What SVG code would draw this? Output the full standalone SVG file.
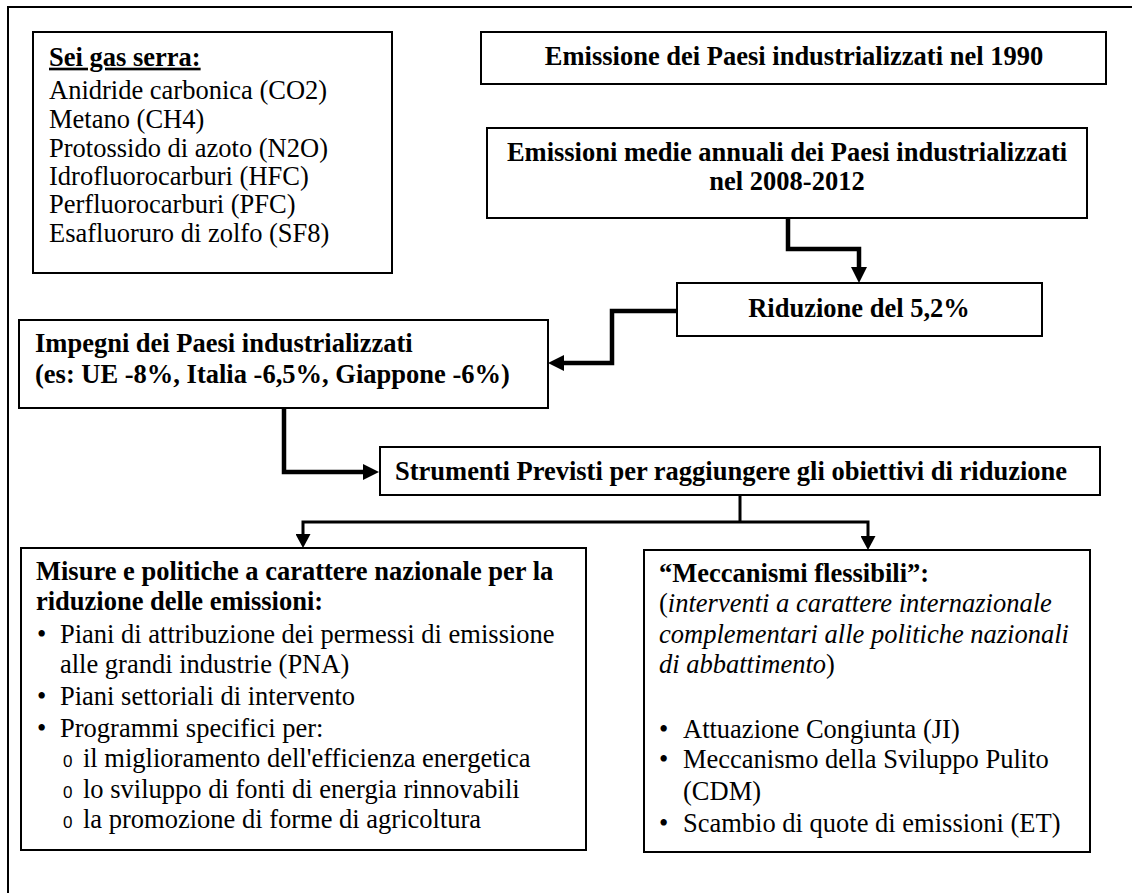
<svg xmlns="http://www.w3.org/2000/svg" width="1132" height="893" viewBox="0 0 1132 893">
  <style>
    .box { fill: #ffffff; stroke: #000000; stroke-width: 2; }
    .frame { fill: none; stroke: #000000; stroke-width: 2; }
    .t { font-family: "Liberation Serif", "Times New Roman", serif; font-size: 26.5px; fill: #000000; }
    .b { font-weight: bold; }
    .i { font-style: italic; }
    .mid { text-anchor: middle; }
    .sub { font-family: "Liberation Sans", Arial, sans-serif; font-size: 17px; fill: #000000; }
    .thick { fill: none; stroke: #000000; stroke-width: 4.5; stroke-linejoin: miter; }
    .thin { fill: none; stroke: #000000; stroke-width: 3; stroke-linejoin: miter; }
  </style>
  <defs>
    <marker id="headBig" markerUnits="userSpaceOnUse" markerWidth="16" markerHeight="16" refX="0" refY="8" orient="auto">
      <path d="M0,0 L16,8 L0,16 z" fill="#000000"/>
    </marker>
    <marker id="headSmall" markerUnits="userSpaceOnUse" markerWidth="14" markerHeight="15" refX="0" refY="7.5" orient="auto">
      <path d="M0,0 L14,7.5 L0,15 z" fill="#000000"/>
    </marker>
  </defs>

  <rect x="0" y="0" width="1132" height="893" fill="#ffffff"/>

  <!-- page frame (top and left edges) -->
  <path class="frame" d="M8,893 V7 H1132"/>

  <!-- connectors -->
  <g id="connectors">
    <path class="thick" d="M788,218 V249 H859 V267" marker-end="url(#headBig)"/>
    <path class="thick" d="M677,311 H612 V363 H564" marker-end="url(#headBig)"/>
    <path class="thick" d="M284,408 V472 H363" marker-end="url(#headBig)"/>
    <path class="thin" d="M740,495 V522"/>
    <path class="thin" d="M740,522 H303 V534" marker-end="url(#headSmall)"/>
    <path class="thin" d="M740,522 H868 V536" marker-end="url(#headSmall)"/>
  </g>

  <!-- greenhouse gases -->
  <g id="gas-serra">
    <rect class="box" x="33" y="32" width="359" height="241"/>
    <text class="t b" x="49" y="65.7" text-decoration="underline">Sei gas serra:</text>
    <text class="t" x="49" y="99">Anidride carbonica (CO2)</text>
    <text class="t" x="49" y="127.7">Metano (CH4)</text>
    <text class="t" x="49" y="156.7">Protossido di azoto (N2O)</text>
    <text class="t" x="49" y="185">Idrofluorocarburi (HFC)</text>
    <text class="t" x="49" y="213.3">Perfluorocarburi (PFC)</text>
    <text class="t" x="49" y="242.3">Esafluoruro di zolfo (SF8)</text>
  </g>

  <g id="emissione-1990">
    <rect class="box" x="481" y="32" width="625" height="52"/>
    <text class="t b mid" x="794" y="65">Emissione dei Paesi industrializzati nel 1990</text>
  </g>

  <g id="emissioni-medie">
    <rect class="box" x="487" y="128" width="600" height="90"/>
    <text class="t b mid" x="787" y="161">Emissioni medie annuali dei Paesi industrializzati</text>
    <text class="t b mid" x="787" y="190">nel 2008-2012</text>
  </g>

  <g id="riduzione">
    <rect class="box" x="677" y="283" width="365" height="53"/>
    <text class="t b mid" x="859" y="317">Riduzione del 5,2%</text>
  </g>

  <g id="impegni">
    <rect class="box" x="19" y="320" width="529" height="88"/>
    <text class="t b" x="35" y="352">Impegni dei Paesi industrializzati</text>
    <text class="t b" x="35" y="383">(es: UE -8%, Italia -6,5%, Giappone -6%)</text>
  </g>

  <g id="strumenti">
    <rect class="box" x="380" y="447" width="720" height="48"/>
    <text class="t b" x="395" y="480">Strumenti Previsti per raggiungere gli obiettivi di riduzione</text>
  </g>

  <g id="misure-nazionali">
    <rect class="box" x="21" y="548" width="565" height="302"/>
    <text class="t b" x="36" y="580">Misure e politiche a carattere nazionale per la</text>
    <text class="t b" x="36" y="610">riduzione delle emissioni:</text>
    <text class="t" x="37" y="643">•</text>
    <text class="t" x="60" y="643">Piani di attribuzione dei permessi di emissione</text>
    <text class="t" x="60" y="673">alle grandi industrie (PNA)</text>
    <text class="t" x="37" y="705">•</text>
    <text class="t" x="60" y="705">Piani settoriali di intervento</text>
    <text class="t" x="37" y="737">•</text>
    <text class="t" x="60" y="737">Programmi specifici per:</text>
    <text class="sub" x="63" y="767">0</text>
    <text class="t" x="83" y="767">il miglioramento dell'efficienza energetica</text>
    <text class="sub" x="63" y="798">0</text>
    <text class="t" x="83" y="798">lo sviluppo di fonti di energia rinnovabili</text>
    <text class="sub" x="63" y="828">0</text>
    <text class="t" x="83" y="828">la promozione di forme di agricoltura</text>
  </g>

  <g id="meccanismi-flessibili">
    <rect class="box" x="644" y="550" width="446" height="302"/>
    <text class="t b" x="659" y="582">“Meccanismi flessibili”:</text>
    <text class="t" x="659" y="612">(<tspan class="i">interventi a carattere internazionale</tspan></text>
    <text class="t i" x="659" y="643">complementari alle politiche nazionali</text>
    <text class="t" x="659" y="673"><tspan class="i">di abbattimento</tspan>)</text>
    <text class="t" x="659" y="738">•</text>
    <text class="t" x="683" y="738">Attuazione Congiunta (JI)</text>
    <text class="t" x="659" y="768">•</text>
    <text class="t" x="683" y="768">Meccanismo della Sviluppo Pulito</text>
    <text class="t" x="683" y="800">(CDM)</text>
    <text class="t" x="659" y="832">•</text>
    <text class="t" x="683" y="832">Scambio di quote di emissioni (ET)</text>
  </g>
</svg>
